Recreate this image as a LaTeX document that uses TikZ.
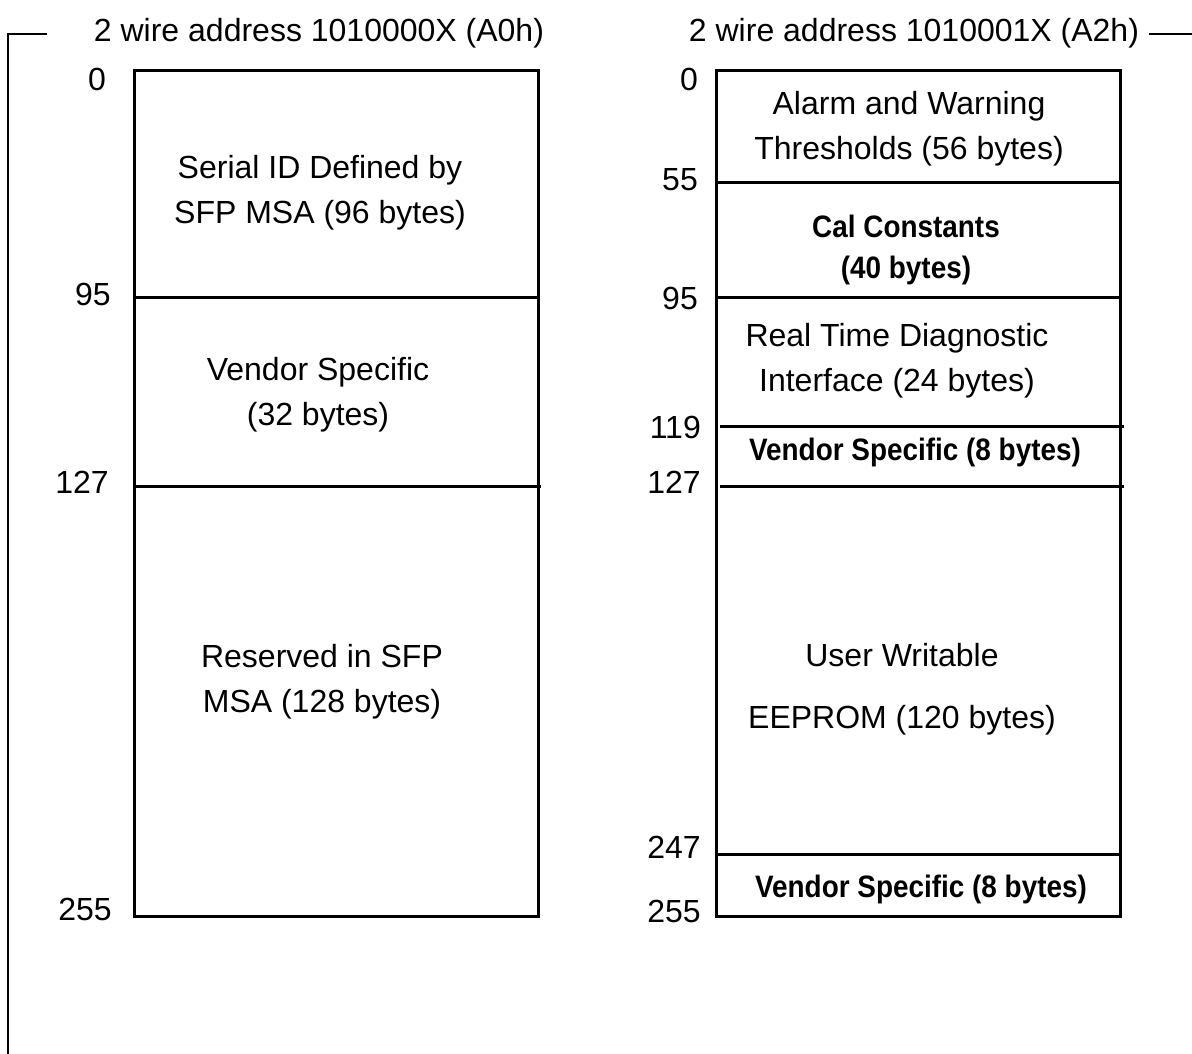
\documentclass[tikz,border=0pt]{standalone}
\usepackage{fontspec}
\setmainfont{Liberation Sans}
\usetikzlibrary{positioning}

\begin{document}
\begin{tikzpicture}[x=1pt,y=-1pt,line join=miter]
  \tikzstyle{mem}=[line width=3pt]
  \tikzstyle{bracket}=[line width=1.5pt]
  \tikzstyle{title}=[inner sep=0pt,font=\fontsize{32}{38}\selectfont]
  \tikzstyle{field}=[align=center,inner sep=0pt,font=\fontsize{32}{45}\selectfont]
  \tikzstyle{bold field}=[align=center,inner sep=0pt,font=\fontsize{31}{41}\selectfont\bfseries,
                          xscale=.9,transform shape]
  \tikzstyle{offset}=[anchor=east,inner sep=0pt,font=\fontsize{32}{38}\selectfont]

  \useasboundingbox (0,0) rectangle (1192,1054);

  % titles and the bracket
  \node[title] (titleA) at (319,33)  {2 wire address 1010000X (A0h)};
  \node[title] (titleB) at (914,33)  {2 wire address 1010001X (A2h)};
  \coordinate (brkA) at (47,34);
  \coordinate (brkB) at (1192,34);
  \draw[bracket] (brkA) -- (8,34) -- (8,1054);
  \draw[bracket] (1149,34) -- (brkB);

  % A0h map
  \draw[mem] (134,71) rectangle (538,916);
  \draw[mem] (134,297) -- (538,297);
  \draw[mem] (134,486) -- (541,486);
  \node[field] (serial)   at (320,193) {Serial ID Defined by\\SFP MSA (96 bytes)};
  \node[field] (vendA)    at (318,395) {Vendor Specific\\(32 bytes)};
  \node[field] (reserved) at (322,682) {Reserved in SFP\\MSA (128 bytes)};
  \node[offset] (a0)   at (106,79)  {0};
  \node[offset] (a95)  at (111,294) {95};
  \node[offset] (a127) at (109,482) {127};
  \node[offset] (a255) at (112,909) {255};

  % A2h map
  \draw[mem] (716,71) rectangle (1120,916);
  \draw[mem] (716,183) -- (1120,183);
  \draw[mem] (716,297) -- (1120,297);
  \draw[mem] (720,426) -- (1124,426);
  \draw[mem] (720,486) -- (1124,486);
  \draw[mem] (716,854) -- (1120,854);
  \node[field] (alarm)  at (909,129) {Alarm and Warning\\Thresholds (56 bytes)};
  \node[bold field] (cal) at (906,250) {Cal Constants\\(40 bytes)};
  \node[field] (diag)   at (897,361) {Real Time Diagnostic\\Interface (24 bytes)};
  \node[bold field] (vendB) at (915,452) {Vendor Specific (8 bytes)};
  \node[field] (user)   at (902,689) {User Writable\\[17pt]EEPROM (120 bytes)};
  \node[bold field] (vendC) at (921,889) {Vendor Specific (8 bytes)};
  \node[offset] (b0)   at (698,79)  {0};
  \node[offset] (b55)  at (698,180) {55};
  \node[offset] (b95)  at (698,298) {95};
  \node[offset] (b119) at (701,427) {119};
  \node[offset] (b127) at (701,482) {127};
  \node[offset] (b247) at (701,847) {247};
  \node[offset] (b255) at (701,911) {255};
\end{tikzpicture}
\end{document}
